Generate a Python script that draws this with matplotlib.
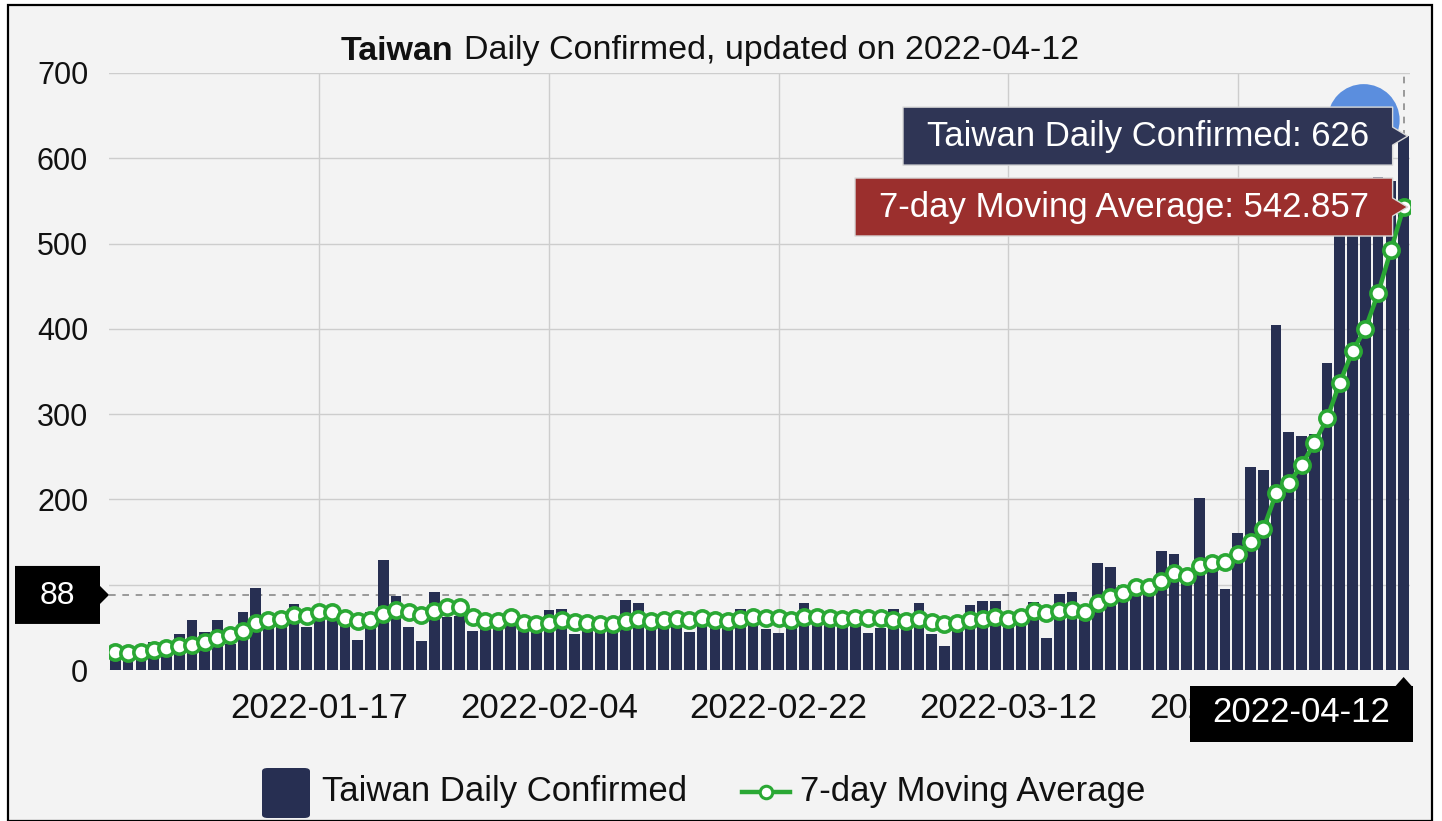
import numpy as np
import pandas as pd
import matplotlib
matplotlib.use('Agg')
import matplotlib.pyplot as plt
from matplotlib.patches import Polygon, Rectangle, FancyBboxPatch, Ellipse
from matplotlib.lines import Line2D
from matplotlib.offsetbox import TextArea, HPacker, AnchoredOffsetbox

plt.rcParams['font.family'] = ['Liberation Sans', 'DejaVu Sans']

# daily data, 2022-01-01 .. 2022-04-12
dates = pd.date_range('2022-01-01', '2022-04-12', freq='D')
daily = [12, 14, 16, 33, 33, 42, 59, 44, 59, 31, 68, 96, 61, 61, 77, 51, 70, 70, 53, 35,
         68, 129, 87, 51, 34, 92,
         62, 63, 46, 53, 53, 56, 53, 53, 70, 71, 42, 47, 47, 49, 82, 79, 55, 56, 56, 44,
         57, 56, 66, 72,
         58, 48, 43, 55, 79, 61, 61, 57, 61, 43, 49, 71, 59, 79, 42, 28, 51, 76, 81, 81,
         59, 62, 80,
         38, 89, 91, 72, 126, 121, 100, 87, 95, 139, 136, 108, 202, 125, 95, 161, 238, 234,
         405, 279, 274, 277, 360, 542, 570, 551, 578, 573, 626]
ma7 = [21.5, 19.5, 21.5, 24, 25.5, 28, 29.5, 33, 38, 41, 46, 55.5, 58.5, 59.5, 64.5, 63,
       68.5, 68.5, 61.5, 58, 58.5, 65.5, 70.5, 68.5, 64.5, 69.5,
       73.5, 74.3, 61.7, 57.4, 57.8, 61.7, 54.7, 53.9, 54.7, 58.6, 56.6, 55.5, 53.9, 53.9,
       57.8, 59.4, 57.8, 58.6, 59.4, 58.6, 60.6, 58.6, 57.8, 59.4,
       61.7, 60.6, 60.6, 58.6, 61.7, 61.7, 60.6, 59.4, 60.6, 60.6, 60.6, 58.6, 57.4, 59.4,
       56.6, 53.5, 55.5, 58.6, 59.4, 61.7, 59.4, 61.7, 69.5, 66.4, 69.5,
       70.3, 68.4, 78, 86, 90, 97, 97.6, 104.6, 114, 110, 122, 126, 127, 136, 150, 165,
       207, 219, 240, 266, 295, 337, 374, 400, 442, 492, 542.857]
tick_dates = ['2022-01-17', '2022-02-04', '2022-02-22', '2022-03-12', '2022-03-30']
y_ticks = [0, 100, 200, 300, 400, 500, 600, 700]
cross_value = 88
hover_date = '2022-04-12'
bar_name = 'Taiwan Daily Confirmed'
ma_name = '7-day Moving Average'

BAR = '#272f52'
GREEN = '#2aa834'
W, H = 1442, 821


def fpt(x, y):
    # pixel from top-left -> figure fraction
    return (x / W, 1 - y / H)


fig = plt.figure(figsize=(W / 100, H / 100), dpi=100)
fig.patch.set_facecolor('white')
fig.add_artist(Rectangle(fpt(8, 821), (1432 - 8) / W, (821 - 5) / H, transform=fig.transFigure,
                         facecolor='#f3f3f3', edgecolor='black', lw=1.6, zorder=0))

ax = fig.add_axes([109 / W, 1 - 670 / H, (1410 - 109) / W, (670 - 73) / H])
ax.patch.set_alpha(0)
x = np.arange(len(daily))
ax.bar(x, daily, width=0.84, color=BAR, zorder=2)
ax.plot(x, ma7, color=GREEN, lw=3.2, marker='o', ms=11, mfc='white', mec=GREEN, mew=2.6,
        zorder=3)

ax.set_xlim(-0.5, len(daily) - 0.5)
ax.set_ylim(0, 700)
ax.set_yticks(y_ticks)
# the 100 label sits under the crosshair tag
ax.set_yticklabels(['' if v == 100 else str(v) for v in y_ticks])
ax.set_xticks([dates.get_loc(pd.Timestamp(d)) for d in tick_dates])
ax.set_xticklabels(tick_dates)
ax.tick_params(length=0, colors='#111111')
ax.tick_params(axis='y', pad=15, labelsize=22)
ax.tick_params(axis='x', pad=16, labelsize=25)
ax.grid(True, color='#cdcdcd', lw=1)
ax.set_axisbelow(True)
for s in ax.spines.values():
    s.set_visible(False)

# hover crosshair
last = len(daily) - 1
ax.axhline(cross_value, color='#8a8a8a', lw=1.2, ls=(0, (4, 4)), zorder=1)
ax.axvline(last, color='#8a8a8a', lw=1.2, ls=(0, (4, 4)), zorder=1)

fig.canvas.draw()


def to_top(xd, yd):
    px, py = ax.transData.transform((xd, yd))
    return px, H - py


def poly(points, color, z=5, ec='none', lw=0):
    p = Polygon([fpt(a, b) for a, b in points], closed=True, transform=fig.transFigure,
                facecolor=color, edgecolor=ec, lw=lw, zorder=z, joinstyle='round')
    fig.add_artist(p)


# highlight circle behind tooltip
cx, cy = to_top(last, daily[-1])
fig.add_artist(Ellipse(fpt(cx - 40, cy - 16), 72 / W, 72 / H, transform=fig.transFigure,
                       facecolor='#5b8ede', edgecolor='none', zorder=4))

# tooltips on the right
for val, txt, col, left in [(daily[-1], f'{bar_name}: {daily[-1]}', '#2f3555', 903),
                            (ma7[-1], f'{ma_name}: {ma7[-1]:g}', '#9b2f2d', 855)]:
    tx, ty = to_top(last, val)
    tx += 4
    right = tx - 15
    poly([(left, ty - 29), (right, ty - 29), (right, ty - 9), (tx, ty), (right, ty + 9),
          (right, ty + 29), (left, ty + 29)], col, z=6, ec='#d8d8d8', lw=1)
    fig.text(*fpt((left + right) / 2, ty), txt, color='white', fontsize=25,
             ha='center', va='center', zorder=7)

# y crosshair tag
_, yy = to_top(0, cross_value)
poly([(15, yy - 29), (100, yy - 29), (100, yy - 9), (109, yy), (100, yy + 9),
      (100, yy + 29), (15, yy + 29)], 'black', z=6)
fig.text(*fpt(57, yy + 1), str(cross_value), color='white', fontsize=23,
         ha='center', va='center', zorder=7)

# x crosshair tag
hx, _ = to_top(last, 0)
poly([(1190, 686), (hx - 8, 686), (hx, 677), (hx + 8, 686), (1413, 686), (1413, 742),
      (1190, 742)], 'black', z=6)
fig.text(*fpt(1301, 712), hover_date, color='white', fontsize=25,
         ha='center', va='center', zorder=7)

# title
parts = [TextArea('Taiwan', textprops=dict(fontsize=24.5, fontweight='bold', color='#111111')),
         TextArea('Daily Confirmed, updated on 2022-04-12',
                  textprops=dict(fontsize=24.5, color='#111111'))]
box = HPacker(children=parts, align='baseline', pad=0, sep=8)
fig.add_artist(AnchoredOffsetbox(loc='center', child=box, pad=0, borderpad=0, frameon=False,
                                 bbox_to_anchor=fpt(710, 51), bbox_transform=fig.transFigure))

# legend
fig.add_artist(FancyBboxPatch(fpt(262, 818), 48 / W, 50 / H, transform=fig.transFigure,
                              boxstyle='round,pad=0,rounding_size=0.004',
                              facecolor=BAR, edgecolor='none'))
fig.text(*fpt(322, 791), bar_name, fontsize=25, color='#111111', va='center', ha='left')
fig.add_artist(Line2D([742 / W, 790 / W], [1 - 792 / H] * 2, transform=fig.transFigure,
                      color=GREEN, lw=3.2))
fig.add_artist(Line2D([766 / W], [1 - 792 / H], transform=fig.transFigure, marker='o',
                      ms=9, mfc='white', mec=GREEN, mew=2.2))
fig.text(*fpt(800, 791), ma_name, fontsize=25, color='#111111', va='center', ha='left')

fig.savefig('out.png', dpi=100)
